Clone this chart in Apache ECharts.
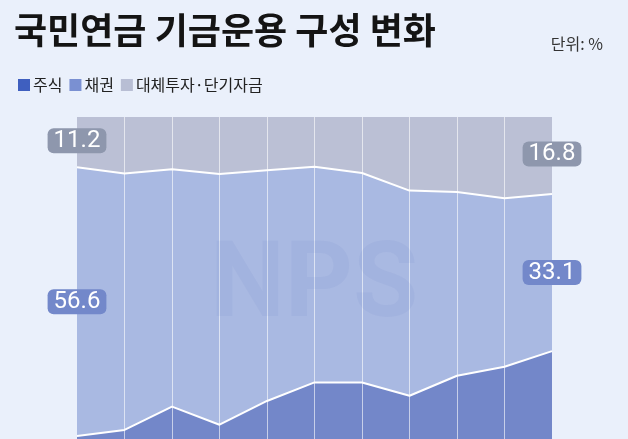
<!DOCTYPE html>
<html>
<head>
<meta charset="utf-8">
<script src="https://cdn.jsdelivr.net/npm/echarts@6/dist/echarts.min.js"></script>
<style>
html,body{margin:0;padding:0;background:#eaf0fb;}
#chart{width:628px;height:439px;}
</style>
</head>
<body>
<div id="chart"></div>
<script>
// Data (percent of fund)
const years = ['2013','2014','2015','2016','2017','2018','2019','2020','2021','2022','2023'];
const stock = [32.2, 33.5, 38.4, 34.6, 39.6, 43.5, 43.5, 40.7, 44.9, 46.8, 50.1];
const bond  = [56.6, 54.0, 50.0, 52.8, 48.6, 45.4, 44.1, 43.2, 38.7, 35.5, 33.1];
const alt   = [11.2, 12.5, 11.6, 12.6, 11.8, 11.1, 12.4, 16.1, 16.4, 17.7, 16.8];
const names = ['주식', '채권', '대체투자·단기자금'];
const titleText = '국민연금 기금운용 구성 변화';
const unitText = '단위: %';

const legendColors = ['#3f5fbf', '#7a90d2', '#b8bed4'];
const areaColors = ['#7387c9', '#a9b9e2', '#bbc0d5'];
const labelBg = ['#4a64b8', '#7388ca', '#8e97ad'];

const last = years.length - 1;
function labelPoint(idx, seriesIdx) {
  const s = stock[idx], b = bond[idx], a = alt[idx];
  const vals = [s, b, a];
  const mids = [s / 2, s + b / 2, s + b + a / 2];
  return {
    value: [idx, mids[seriesIdx]],
    label: {
      formatter: vals[seriesIdx].toFixed(1),
      backgroundColor: labelBg[seriesIdx]
    }
  };
}
const labelData = [];
[0, last].forEach(i => { [0, 1, 2].forEach(k => labelData.push(labelPoint(i, k))); });

const chart = echarts.init(document.getElementById('chart'), null, {renderer: 'canvas'});
const areaSeries = [stock, bond, alt].map((arr, k) => ({
  name: names[k],
  type: 'line',
  stack: 'total',
  data: arr,
  symbol: 'none',
  smooth: false,
  silent: true,
  z: 2,
  itemStyle: {color: legendColors[k]},
  lineStyle: {color: '#ffffff', width: k === 2 ? 0 : 2},
  areaStyle: {color: areaColors[k], opacity: 1}
}));

chart.setOption({
  backgroundColor: '#eaf0fb',
  animation: false,
  title: [
    {text: titleText, left: 9, top: 7,
     textStyle: {fontFamily: 'Noto Sans CJK KR', fontSize: 36, fontWeight: 'bold', color: '#141414'}},
    {text: unitText, right: 20, top: 31,
     textStyle: {fontFamily: 'Noto Sans CJK KR', fontSize: 16, fontWeight: 'normal', color: '#333'}}
  ],
  legend: {
    left: 13, top: 72, itemWidth: 12, itemHeight: 12, itemGap: 7,
    icon: 'rect', selectedMode: false,
    textStyle: {fontFamily: 'Noto Sans CJK KR', fontSize: 16, color: '#222', padding: [0, 0, 0, -2]},
    data: names.map((n, k) => ({name: n, icon: 'rect', itemStyle: {color: legendColors[k], borderWidth: 0}}))
  },
  graphic: [{
    type: 'text', left: 210, top: 236, z: 5, silent: true,
    style: {text: 'NPS', font: 'bold 106px Roboto', fill: 'rgba(95,115,185,0.08)'}
  }],
  grid: {left: 77, right: 76, top: 117, height: 472, containLabel: false, outerBoundsMode: 'none'},
  xAxis: {
    type: 'category', data: years, boundaryGap: false, z: 4,
    axisLine: {show: false}, axisTick: {show: false},
    axisLabel: {show: false},
    splitLine: {show: true, showMinLine: false, showMaxLine: false,
      lineStyle: {color: 'rgba(255,255,255,0.6)', width: 1}}
  },
  yAxis: {
    type: 'value', min: 0, max: 99.4,
    axisLine: {show: false}, axisTick: {show: false}, axisLabel: {show: false},
    splitLine: {show: false}
  },
  series: areaSeries.concat([{
    name: 'labels', type: 'scatter', data: labelData, symbolSize: 0, z: 10, silent: true,
    itemStyle: {opacity: 1},
    label: {show: true, position: 'inside', color: '#fff', fontFamily: 'Roboto', opacity: 1,
      fontSize: 24, lineHeight: 24, padding: [1, 6, 0, 6], borderRadius: 6}
  }])
});
</script>
</body>
</html>
